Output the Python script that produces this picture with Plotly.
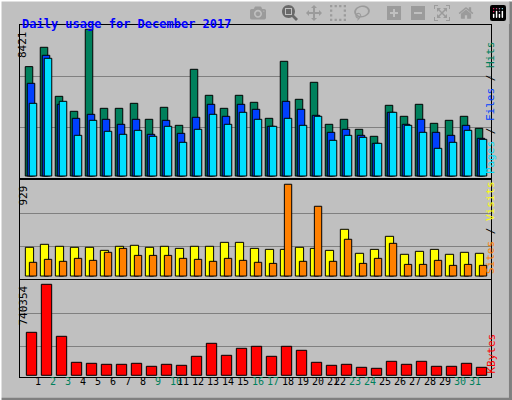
import plotly.graph_objects as go

days = list(range(1, 32))
weekend = [2, 3, 9, 10, 16, 17, 23, 24, 30, 31]
hits = [6278,7388,4574,3713,8421,3885,3885,4172,3254,3943,2909,6125,4632,3885,4632,4230,3311,6584,4402,5378,2967,3254,2680,2278,4058,3426,4115,3024,3196,3426,2737]
files = [5321,6929,4115,3311,3541,3254,2967,3254,2393,3196,2450,3369,4115,3426,4115,3828,2852,4287,3828,3483,2507,2680,2335,1876,3656,2967,3254,2507,2335,2909,2163]
pages = [4172,6756,4287,2335,3196,2565,2393,2622,2278,2852,1933,2680,3541,2967,3656,3254,2852,3311,2909,3426,2048,2335,2220,1876,3656,2909,2507,1589,1933,2622,2105]
sites = [291,321,301,291,291,260,301,311,291,301,280,301,301,341,341,280,270,270,291,280,260,473,230,270,402,220,250,270,220,240,230]
visits = [139,169,149,179,159,240,280,209,209,209,179,169,149,179,159,139,128,929,149,706,149,372,128,179,331,118,118,159,108,118,108]
kbytes = [349848,740354,317304,105768,97632,89496,89496,97632,73224,89496,81360,154584,260352,162720,219672,235944,154584,235944,203400,105768,81360,89496,65088,56952,113904,89496,113904,73224,73224,97632,65088]

MONO = "DejaVu Sans Mono"
line = dict(color="black", width=1)
fig = go.Figure()
def bar(y, col, off, w, ax):
    fig.add_bar(x=days, y=y, marker=dict(color=col, line=line), offset=off, width=w,
                xaxis="x" if ax == "" else "x" + ax, yaxis="y" + ax)
bar(hits, "#00805C", -0.517, 0.5, "")
bar(files, "#0040FF", -0.383, 0.5, "")
bar(pages, "#00E0FF", -0.25, 0.5, "")
bar(sites, "#FFFF00", -0.51, 0.55, "2")
bar(visits, "#FF8000", -0.243, 0.49, "2")
bar(kbytes, "#FF0000", -0.445, 0.69, "3")

xd = [20/512, 491/512]
xcommon = dict(range=[0.133, 31.533], showticklabels=False, showgrid=False, zeroline=False,
               showline=True, mirror=True, linecolor="black", domain=xd)
ycommon = dict(showticklabels=False, gridcolor="#808080", zeroline=False, showline=True,
               mirror=True, linecolor="black", ticks="")
fig.update_layout(
    width=512, height=400, margin=dict(l=0, r=0, t=0, b=0), showlegend=False,
    paper_bgcolor="#C0C0C0", plot_bgcolor="#C0C0C0", barmode="overlay",
    xaxis=dict(**xcommon, anchor="y"),
    xaxis2=dict(**xcommon, anchor="y2"),
    xaxis3=dict(**xcommon, anchor="y3"),
    yaxis=dict(**ycommon, domain=[(400-178)/400, (400-24.7)/400], range=[-115, 8685], tickvals=[2800, 5700], anchor="x"),
    yaxis2=dict(**ycommon, domain=[(400-279)/400, (400-180.3)/400], range=[-30, 969], tickvals=[301, 635], anchor="x2"),
    yaxis3=dict(**ycommon, domain=[(400-377.3)/400, (400-280.3)/400], range=[-16271, 772900], tickvals=[235936, 504400], anchor="x3"),
)
ann = []
def pa(x, y, text, **kw):
    ann.append(dict(x=x/512, y=1-y/400, xref="paper", yref="paper", text=text, showarrow=False,
                    font=dict(family=MONO, size=kw.pop("size", 11), color=kw.pop("color", "black")), **kw))
pa(20, 15, "<b>Daily usage for December 2017</b>", color="#0000FF", size=12, xanchor="left")
pa(14, 29, str(max(hits)), textangle=-90, yanchor="top")
pa(14, 184, str(max(visits)), textangle=-90, yanchor="top")
pa(14, 284, str(max(kbytes)), textangle=-90, yanchor="top")
pa(499, 176, "<span style='color:#00E0FF'>Pages</span> / <span style='color:#0040FF'>Files</span> / <span style='color:#00805C'>Hits</span>", textangle=-90, yanchor="bottom")
pa(499, 276, "<span style='color:#FF8000'>Sites</span> / <span style='color:#FFFF00'>Visits</span>", textangle=-90, yanchor="bottom")
pa(499, 376, "KBytes", color="#FF0000", textangle=-90, yanchor="bottom")
for d in days:
    pa(33 + 15*(d-1), 389, str(d), color="#00805C" if d in weekend else "black", size=10)
fig.update_layout(annotations=ann)
fig.add_shape(type="line", xref="paper", yref="paper", x0=0, x1=1, y0=0.002, y1=0.002, line=dict(color="#808080", width=3))
fig.add_shape(type="line", xref="paper", yref="paper", x0=0.997, x1=0.997, y0=0, y1=1, line=dict(color="#808080", width=3))
fig.add_shape(type="line", xref="paper", yref="paper", x0=0, x1=1, y0=0.999, y1=0.999, line=dict(color="white", width=2))
fig.add_shape(type="line", xref="paper", yref="paper", x0=0.001, x1=0.001, y0=0, y1=1, line=dict(color="white", width=2))
fig.write_html("out.html", post_script="document.body.style.margin='0';document.body.style.overflow='hidden';")
